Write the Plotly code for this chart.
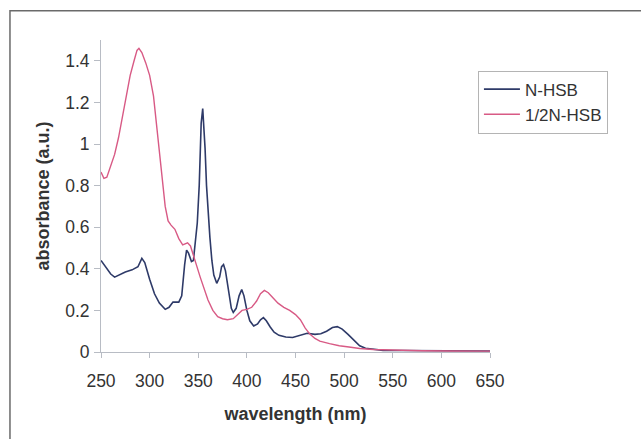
import plotly.graph_objects as go

# UV-vis absorption spectra
wl_nhsb = [250, 255, 260, 264, 268, 275, 282, 288, 292, 295, 300, 305, 310, 316, 320,
           324, 330, 333, 336, 338, 340, 343, 345, 347, 349, 351, 352, 353, 354.6, 356,
           357, 358.5, 360, 362, 364, 366, 369, 372, 374, 376, 378, 381, 384, 386, 389,
           392, 394.7, 397, 400, 403, 407, 411, 414, 417, 420, 424, 428, 433, 440, 447,
           455, 462, 470, 476, 482, 488, 493, 498, 504, 510, 516, 522, 530, 540, 560,
           580, 600, 620, 650]
abs_nhsb = [0.44, 0.41, 0.375, 0.36, 0.37, 0.385, 0.395, 0.41, 0.45, 0.43, 0.35, 0.28, 0.235, 0.205, 0.215,
            0.24, 0.24, 0.27, 0.42, 0.49, 0.475, 0.435, 0.44, 0.52, 0.62, 0.80, 0.98, 1.10, 1.17, 1.08,
            0.98, 0.80, 0.68, 0.55, 0.44, 0.37, 0.33, 0.36, 0.41, 0.42, 0.39, 0.29, 0.21, 0.19, 0.21,
            0.27, 0.30, 0.27, 0.20, 0.15, 0.125, 0.135, 0.155, 0.165, 0.15, 0.12, 0.095, 0.08, 0.072, 0.07,
            0.08, 0.09, 0.085, 0.088, 0.10, 0.118, 0.122, 0.11, 0.085, 0.055, 0.03, 0.018, 0.012, 0.008, 0.007,
            0.006, 0.005, 0.005, 0.005]

wl_half = [250, 253, 256, 260, 264, 268, 272, 276, 280, 284, 287, 289, 292, 296, 300,
           304, 307, 310, 313, 316, 319, 322, 326, 330, 334, 337, 339, 342, 345, 348,
           352, 356, 360, 365, 370, 375, 380, 386, 390, 395, 400, 405, 410, 414, 418,
           422, 427, 432, 438, 444, 450, 455, 460, 465, 470, 475, 485, 495, 505, 516,
           530, 557, 580, 610, 650]
abs_half = [0.865, 0.835, 0.84, 0.89, 0.95, 1.03, 1.13, 1.24, 1.33, 1.40, 1.45, 1.46, 1.44, 1.39, 1.33,
            1.23, 1.10, 0.95, 0.82, 0.70, 0.63, 0.61, 0.59, 0.545, 0.515, 0.52, 0.525, 0.51, 0.47, 0.42,
            0.36, 0.30, 0.25, 0.20, 0.17, 0.16, 0.155, 0.16, 0.18, 0.20, 0.205, 0.215, 0.245, 0.28, 0.296,
            0.285, 0.26, 0.235, 0.215, 0.20, 0.18, 0.155, 0.115, 0.085, 0.065, 0.052, 0.04, 0.03, 0.024, 0.017,
            0.012, 0.008, 0.006, 0.005, 0.004]

x_ticks = [250, 300, 350, 400, 450, 500, 550, 600, 650]
y_ticks = [0, 0.2, 0.4, 0.6, 0.8, 1.0, 1.2, 1.4]
y_tick_text = ["0", "0.2", "0.4", "0.6", "0.8", "1", "1.2", "1.4"]

FONT = "Liberation Sans, Arial, sans-serif"
TEXT = "#333333"
AXIS = "#b8bcc4"

fig = go.Figure()
fig.add_trace(go.Scatter(x=wl_nhsb, y=abs_nhsb, mode="lines", name="N-HSB",
                         line=dict(color="#2e3a68", width=1.6)))
fig.add_trace(go.Scatter(x=wl_half, y=abs_half, mode="lines", name="1/2N-HSB",
                         line=dict(color="#d85a85", width=1.4)))

fig.update_layout(
    width=641, height=439, autosize=False,
    margin=dict(l=101, r=151, t=40, b=86.5, pad=0),
    paper_bgcolor="white", plot_bgcolor="white",
    font=dict(family=FONT, size=17.5, color=TEXT),
    showlegend=True,
    legend=dict(x=0.969, y=0.902, xanchor="left", yanchor="top",
                bordercolor="#b4b4b4", borderwidth=1, bgcolor="white",
                font=dict(size=17, color=TEXT), tracegroupgap=0,
                itemwidth=36),
    xaxis=dict(range=[250, 650], tickmode="array", tickvals=x_ticks,
               showgrid=False, zeroline=False, showline=True, linecolor=AXIS, linewidth=1,
               ticks="outside", ticklen=5, tickcolor=AXIS, ticklabelstandoff=8,
               title=dict(text="<b>wavelength (nm)</b>", standoff=17,
                          font=dict(size=18, color=TEXT))),
    yaxis=dict(range=[0, 1.5], tickmode="array", tickvals=y_ticks, ticktext=y_tick_text,
               showgrid=False, zeroline=False, showline=True, linecolor=AXIS, linewidth=1,
               ticks="outside", ticklen=6, tickcolor=AXIS, ticklabelstandoff=1,
               title=dict(text="<b>absorbance (a.u.)</b>", standoff=10,
                          font=dict(size=18, color=TEXT))),
)

# outer chart frame (left and top edges)
fig.add_shape(type="path", xref="paper", yref="paper",
              path="M -0.234,-0.4 L -0.234,1.094 L 1.5,1.094",
              line=dict(color="#6a6a6a", width=1.5))

fig.write_html("out.html")
